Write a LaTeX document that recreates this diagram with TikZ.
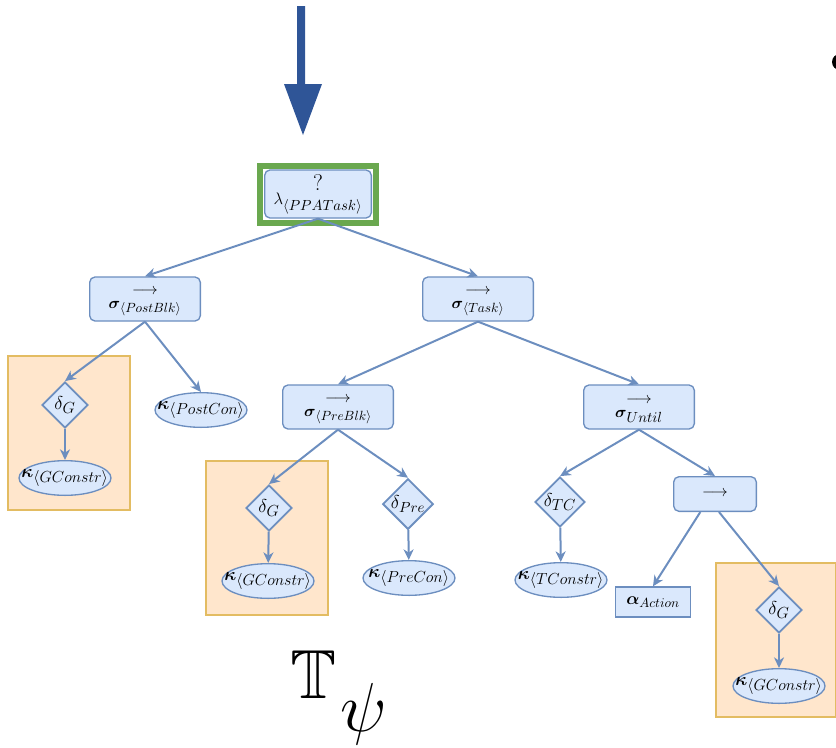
\RequirePackage{fix-cm}
\documentclass[tikz,border=0pt]{standalone}
\usepackage{amsmath,amssymb}
\usetikzlibrary{shapes.geometric,arrows.meta}
% bold math italic at any size
\DeclareFontShape{OML}{cmm}{b}{it}{<->cmmib10}{\skewchar\font'177}
\definecolor{edgeC}{HTML}{6C8EBF}
\definecolor{nodeF}{HTML}{DAE8FC}
\definecolor{grpF}{HTML}{FFE6CC}
\definecolor{grpD}{HTML}{E3BC62}
\definecolor{rootG}{HTML}{6AA84F}
\definecolor{entryB}{HTML}{2F5597}
% a subscript set at its own size
\newcommand\sbx[2]{\mbox{\fontsize{#1}{#1}\selectfont$#2$}}
% first line of a sequence node: the arrow, with extra room above it
\newcommand\seqarrow{\rule{0pt}{9pt}$\longrightarrow$}
\tikzset{
  blk/.style={rectangle, rounded corners=4pt, draw=edgeC, fill=nodeF, line width=1pt,
    minimum width=83pt, minimum height=33pt, inner sep=0pt, align=center,
    font=\fontsize{12}{10.5}\selectfont},
  cond/.style={diamond, draw=edgeC, fill=nodeF, line width=1.4pt, aspect=1,
    minimum width=34.5pt, minimum height=34.5pt, inner sep=0pt,
    font=\fontsize{14}{16}\selectfont},
  cons/.style={ellipse, draw=edgeC, fill=nodeF, line width=1pt,
    minimum width=69pt, minimum height=26pt, inner xsep=-25pt, inner ysep=-10pt,
    font=\fontsize{13.5}{15}\selectfont},
  act/.style={rectangle, draw=edgeC, fill=nodeF, line width=1pt,
    minimum width=56pt, minimum height=22.5pt, inner sep=0pt,
    font=\fontsize{13}{15}\selectfont},
  grp/.style={draw=grpD, fill=grpF, line width=0.8pt},
  link/.style={draw=edgeC, line width=1.5pt, -{Stealth[length=8pt,width=7.5pt,inset=2.5pt]}},
}
\begin{document}
\begin{tikzpicture}[x=0.75pt,y=-0.75pt]
\useasboundingbox (0,0) rectangle (836,747);

% guard groups
\draw[grp] (8,356) rectangle (130,510);
\draw[grp] (206,461) rectangle (328,615);
\draw[grp] (716,563) rectangle (836,717);

% entry arrow
\fill[entryB] (297,6) -- (305,6) -- (305,84) -- (322,84) -- (303,135) -- (284,84) -- (297,84) -- cycle;

% root fallback node
\node[blk, minimum width=80pt, minimum height=36pt, font=\fontsize{12.5}{11}\selectfont] (root) at (318,194)
  {\mbox{\fontsize{17}{17}\selectfont ?}\\$\lambda_{\sbx{11}{\langle PPATask\rangle}}$};
\draw[rootG, line width=4.5pt] (260,166) rectangle (376,223);

% sequence nodes
\node[blk] (post) at (145,299) {\seqarrow\\$\boldsymbol{\sigma}_{\sbx{10}{\langle PostBlk\rangle}}$};
\node[blk] (task) at (478,299) {\seqarrow\\$\boldsymbol{\sigma}_{\sbx{10}{\langle Task\rangle}}$};
\node[blk] (pre) at (338,407) {\seqarrow\\$\boldsymbol{\sigma}_{\sbx{10}{\langle PreBlk\rangle}}$};
\node[blk] (until) at (639,407) {\seqarrow\\$\boldsymbol{\sigma}_{\sbx{11}{Until}}$};
\node[blk, minimum width=62pt, minimum height=26pt] (seq) at (715,494) {$\longrightarrow$};

% conditions and constraints
\node[cond] (g1) at (65,405) {$\delta_{\sbx{12}{G}}$};
\node[cons] (k1) at (65,478) {$\boldsymbol{\kappa}_{\sbx{12}{\langle GConstr\rangle}}$};
\node[cons] (kpost) at (201,410) {$\boldsymbol{\kappa}_{\sbx{12}{\langle PostCon\rangle}}$};
\node[cond] (g2) at (269,508) {$\delta_{\sbx{12}{G}}$};
\node[cons] (k2) at (268,581) {$\boldsymbol{\kappa}_{\sbx{12}{\langle GConstr\rangle}}$};
\node[cond] (dpre) at (408,504) {$\delta_{\sbx{11}{Pre}}$};
\node[cons] (kpre) at (409,578) {$\boldsymbol{\kappa}_{\sbx{12}{\langle PreCon\rangle}}$};
\node[cond] (dtc) at (560,502) {$\delta_{\sbx{12}{TC}}$};
\node[cons] (ktc) at (561,580) {$\boldsymbol{\kappa}_{\sbx{12}{\langle TConstr\rangle}}$};
\node[act] (act) at (653,602) {$\boldsymbol{\alpha}_{\sbx{10}{Action}}$};
\node[cond] (g3) at (779,610) {$\delta_{\sbx{12}{G}}$};
\node[cons] (k3) at (779,686) {$\boldsymbol{\kappa}_{\sbx{12}{\langle GConstr\rangle}}$};

% tree edges
\draw[link] (root.south) -- (post.north);
\draw[link] (root.south) -- (task.north);
\draw[link] (post.south) -- (g1.north);
\draw[link] (post.south) -- (kpost.north);
\draw[link] (g1) -- (k1);
\draw[link] (task.south) -- (pre.north);
\draw[link] (task.south) -- (until.north);
\draw[link] (pre.south) -- (g2.north);
\draw[link] (pre.south) -- (dpre.north);
\draw[link] (g2) -- (k2);
\draw[link] (dpre) -- (kpre);
\draw[link] (until.south) -- (dtc.north);
\draw[link] (until.south) -- (seq.north);
\draw[link] (dtc) -- (ktc);
\draw[link] ([xshift=-11pt]seq.south) -- (act.north);
\draw[link] ([xshift=3pt]seq.south) -- (g3.north);
\draw[link] (g3) -- (k3);

% tree label
\node[anchor=base west, inner sep=0pt, font=\fontsize{52}{60}\selectfont] (lbl) at (290,698)
  {$\mathbb{T}\mkern1mu\raisebox{-25pt}{$\psi$}$};

% bullet at the right edge
\fill (840,62) circle (8);
\end{tikzpicture}
\end{document}
